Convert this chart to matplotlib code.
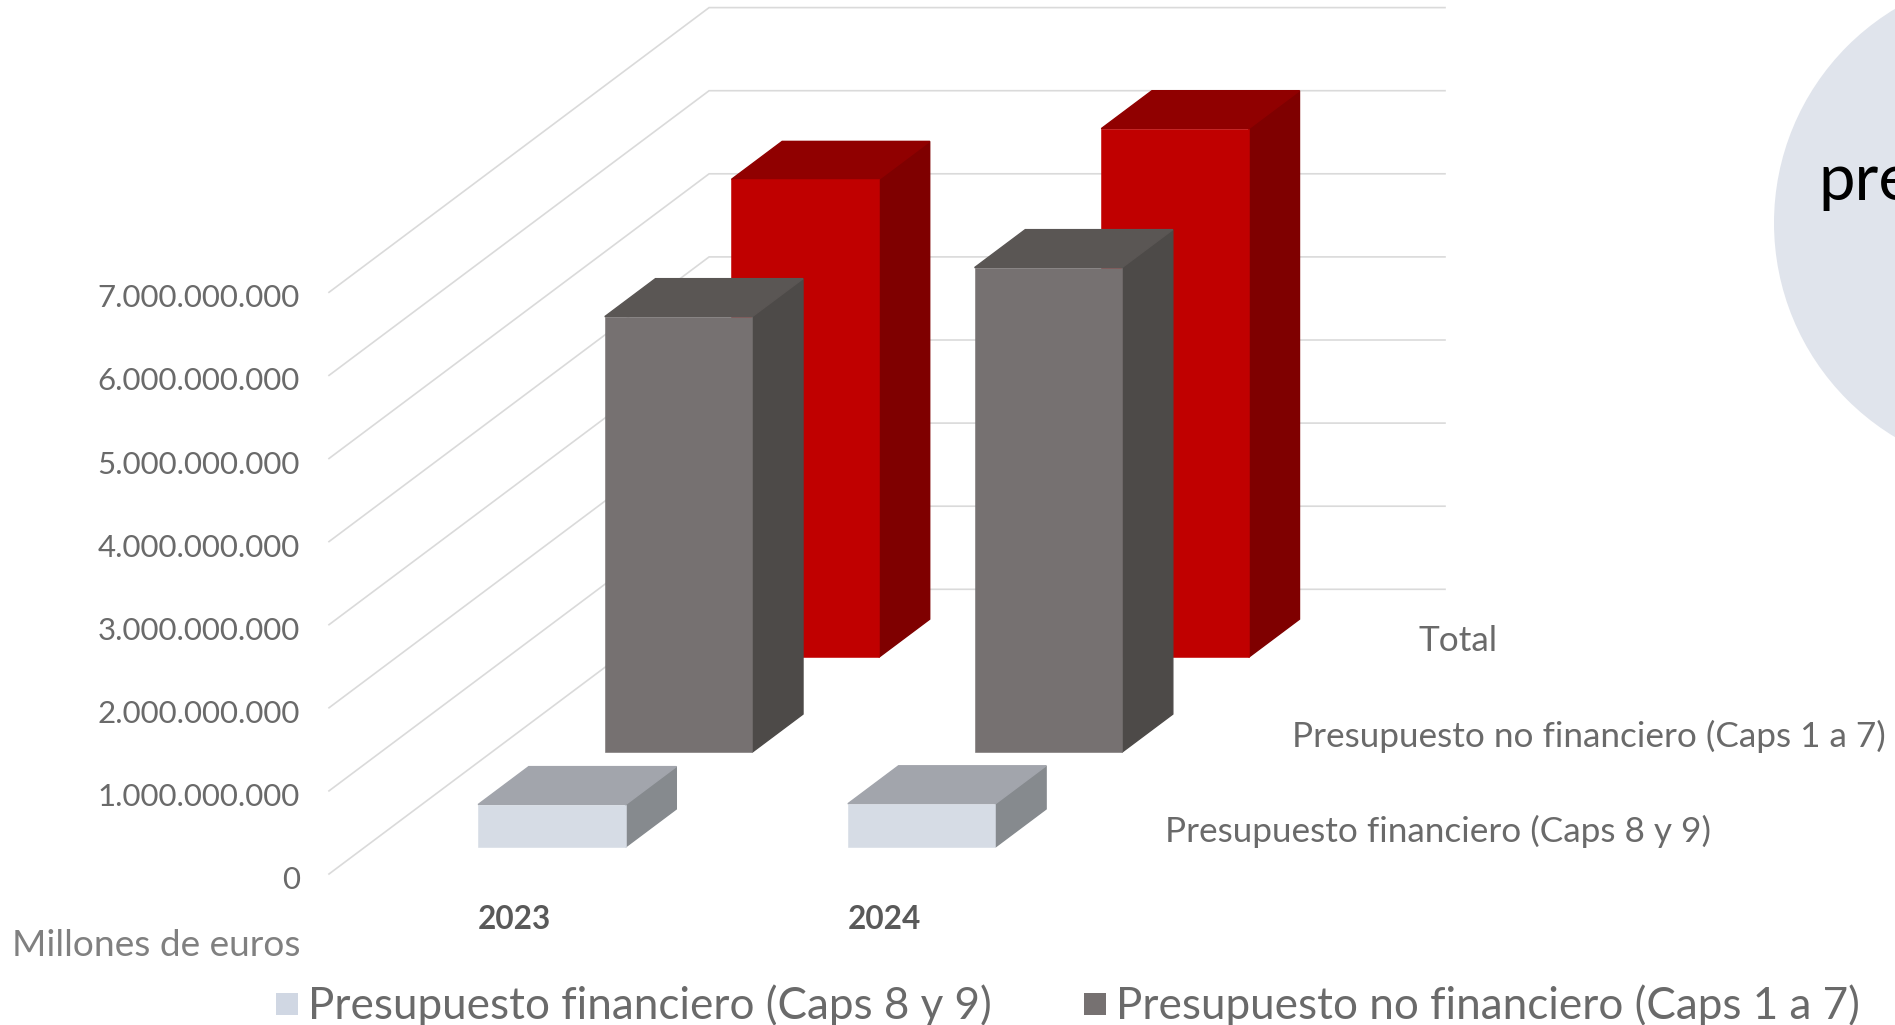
import matplotlib
matplotlib.use("Agg")
import matplotlib.pyplot as plt
from matplotlib.patches import Polygon, Circle, Rectangle

plt.rcParams['font.family'] = ['Lato', 'DejaVu Sans']

# ---- data ----
years = ["2023", "2024"]
series_names = ["Presupuesto financiero (Caps 8 y 9)",
                "Presupuesto no financiero (Caps 1 a 7)",
                "Total"]
financiero = [0.51e9, 0.52e9]
no_financiero = [5.24e9, 5.83e9]
total = [5.75e9, 6.36e9]
y_ticks = [0, 1e9, 2e9, 3e9, 4e9, 5e9, 6e9, 7e9]
y_title = "Millones de euros"
bubble_text = "pre"

# ---- style: front, top, side per series ----
face_colors = [("#D6DCE5", "#A2A5AC", "#868A8E"),
               ("#767171", "#5A5654", "#4D4A48"),
               ("#C00000", "#900000", "#7F0000")]
legend_colors = ["#D0D7E3", "#767171"]
GRID = "#DADADA"
TEXT = "#6A6A6A"

# ---- oblique projection: canvas in pixels ----
X0, Y0 = 329.0, 874.0      # front-left floor corner
CAT_W = 369.8              # pixels per category
WALL_CATS = 1.99           # back wall width in categories
DX, DY = 126.7, 94.9       # pixels per depth slot
VAL = 83.1 / 1e9           # pixels per euro
BAR_X, BAR_W = 0.3055, 0.399
BAR_D0, BAR_D = 0.285, 0.40


def proj(x, d, v):
    return (X0 + x * CAT_W + d * DX, Y0 - d * DY - v * VAL)


def face(pts, color, lw=1.0):
    ax.add_patch(Polygon(pts, fc=color, ec=color, lw=lw, zorder=3))


fig = plt.figure(figsize=(18.95, 10.25), dpi=100, facecolor="white")
ax = fig.add_axes([0, 0, 1, 1])
ax.set_xlim(0, 1895)
ax.set_ylim(1025, 0)
ax.axis("off")

# right-hand bubble
ax.add_patch(Circle((2024, 223), 250, fc="#E0E4EC", ec="none", zorder=1))
ax.text(1818, 200, bubble_text, fontsize=47, fontweight="normal", color="black",
        ha="left", va="baseline", zorder=2, clip_on=True)

# gridlines: floor/side diagonal + back wall
n_cat, n_depth = len(years), len(series_names)
for v in y_ticks:
    pts = [proj(0, 0, v), proj(0, n_depth, v), proj(WALL_CATS, n_depth, v)]
    ax.plot(*zip(*pts), color=GRID, lw=1.2, zorder=2, solid_joinstyle="miter")
    x, y = proj(0, 0, v)
    ax.text(x - 29, y + 6, f"{v:,.0f}".replace(",", "."), fontsize=22.5,
            color=TEXT, ha="right", va="center", zorder=5)

ax.text(300, 946, y_title, fontsize=26.7, color="#808080", ha="right", va="center")

# bars, back series first
series = [financiero, no_financiero, total]
for k in reversed(range(n_depth)):
    for i in range(n_cat):
        v = series[k][i]
        front, top, side = face_colors[k]
        x0, x1 = i + BAR_X, i + BAR_X + BAR_W
        d0, d1 = k + BAR_D0, k + BAR_D0 + BAR_D
        face([proj(x1, d0, 0), proj(x1, d1, 0), proj(x1, d1, v), proj(x1, d0, v)], side)
        face([proj(x0, d0, v), proj(x1, d0, v), proj(x1, d1, v), proj(x0, d1, v)], top)
        face([proj(x0, d0, 0), proj(x1, d0, 0), proj(x1, d0, v), proj(x0, d0, v)], front, lw=0.4)

# category labels
for i, yr in enumerate(years):
    x, _ = proj(i + BAR_X, BAR_D0, 0)
    ax.text(x, 919.5, yr, fontsize=22.7, fontweight="bold", color="#595959",
            ha="left", va="center")

# depth-axis labels
for k, name in enumerate(series_names):
    x, y = proj(2.262, k, 0)
    ax.text(x, y - 43, name, fontsize=25.3, color=TEXT, ha="left", va="center")

# legend (third entry falls off the canvas in the reference)
for name, col, mx in zip(series_names[:2], legend_colors, [276, 1084]):
    ax.add_patch(Rectangle((mx, 993), 21.5, 21.5, fc=col, ec="none"))
    ax.text(mx + 32, 1006, name, fontsize=31.7, color=TEXT, ha="left", va="center")

fig.savefig("out.png", dpi=100, facecolor="white")
